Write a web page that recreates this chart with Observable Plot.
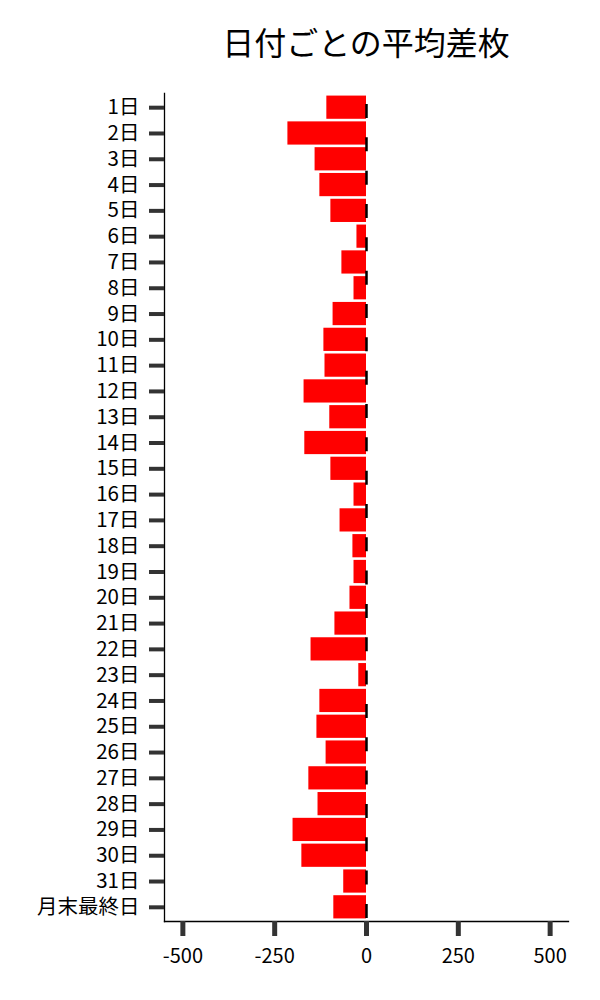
<!DOCTYPE html>
<html>
<head>
<meta charset="utf-8">
<script src="https://cdn.jsdelivr.net/npm/d3@7"></script>
<script src="https://cdn.jsdelivr.net/npm/@observablehq/plot@0.6"></script>
<style>
  html, body { margin: 0; padding: 0; background: #fff; }
  #title {
    box-sizing: border-box;
    width: 600px;
    height: 60px;
    padding-left: 164px;
    padding-right: 32px;
    padding-top: 24px;
    text-align: center;
    font-family: "Noto Sans CJK JP", sans-serif;
    font-size: 32px;
    line-height: 34px;
    color: #000;
    white-space: nowrap;
  }
  #chart svg { display: block; }
</style>
</head>
<body>
<div id="title">日付ごとの平均差枚</div>
<div id="chart"></div>
<script>
const days = ["1日","2日","3日","4日","5日","6日","7日","8日","9日","10日",
  "11日","12日","13日","14日","15日","16日","17日","18日","19日","20日",
  "21日","22日","23日","24日","25日","26日","27日","28日","29日","30日",
  "31日","月末最終日"];
const values = [-108, -214, -140, -127, -97, -26, -67, -34, -91, -116,
  -113, -170, -100, -168, -97, -34, -72, -37, -34, -45,
  -86, -151, -21, -127, -135, -110, -157, -132, -200, -176,
  -62, -89];
const xTicks = [-500, -250, 0, 250, 500];
const xDomain = [-550, 550];

const data = days.map((d, i) => ({day: d, value: values[i]}));

const chart = Plot.plot({
  width: 600,
  height: 940,
  marginTop: 33,
  marginBottom: 79,
  marginLeft: 164,
  marginRight: 32,
  style: {fontFamily: "Noto Sans CJK JP", fontSize: "20px", background: "white", color: "black"},
  x: {domain: xDomain, round: false},
  y: {domain: days, padding: 0.1, round: false},
  marks: [
    Plot.barX(data, {x: "value", y: "day", fill: "#ff0000"}),
    Plot.ruleX([0], {stroke: "black", strokeWidth: 2.5, strokeDasharray: "14,19.33", strokeDashoffset: 22.33}),
    Plot.frame({anchor: "left", stroke: "black", strokeWidth: 1.3}),
    Plot.frame({anchor: "bottom", stroke: "black", strokeWidth: 1.3}),
    Plot.axisY({tickSize: 15, tickPadding: 10, strokeWidth: 4, stroke: "#333", fill: "black", fontSize: 20.5, label: null}),
    Plot.axisX({ticks: xTicks, tickSize: 15, tickPadding: 12, strokeWidth: 5, stroke: "#333", fill: "black", fontSize: 20, label: null, tickFormat: d => String(d)})
  ]
});
document.getElementById("chart").appendChild(chart);
</script>
</body>
</html>
